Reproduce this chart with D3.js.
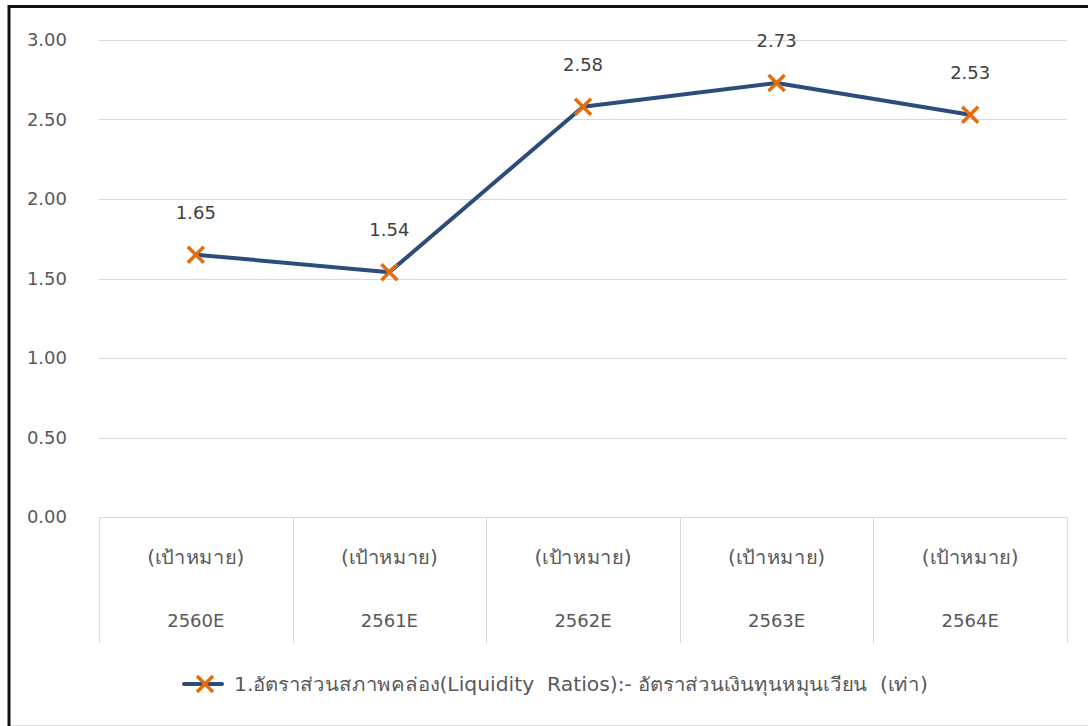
<!DOCTYPE html>
<html>
<head>
<meta charset="utf-8">
<script src="https://cdn.jsdelivr.net/npm/d3@7"></script>
<style>
  html, body { margin: 0; padding: 0; background: #fff; }
  svg { display: block; }
  text { font-family: "DejaVu Sans", "Noto Sans", sans-serif; }
</style>
</head>
<body>
<svg id="chart" width="1088" height="726"></svg>
<script>
// Working-capital ratio targets by year
const years = ["2560E", "2561E", "2562E", "2563E", "2564E"];
const subLabels = ["(เป้าหมาย)", "(เป้าหมาย)", "(เป้าหมาย)", "(เป้าหมาย)", "(เป้าหมาย)"];
const ratios = [1.65, 1.54, 2.58, 2.73, 2.53];
const yTicks = [0, 0.5, 1, 1.5, 2, 2.5, 3];
const seriesName = "1.อัตราส่วนสภาพคล่อง(Liquidity  Ratios):- อัตราส่วนเงินทุนหมุนเวียน  (เท่า)";

const svg = d3.select("#chart");
const W = 1088, H = 726;

// Frame
svg.append("rect").attr("x", 0).attr("y", 0).attr("width", W).attr("height", H).attr("fill", "#fff");
svg.append("rect").attr("x", 9.5).attr("y", 7.5).attr("width", W + 5).attr("height", H - 8)
  .attr("fill", "none").attr("stroke", "#d9d9d9").attr("stroke-width", 1);
svg.append("line").attr("x1", 8).attr("x2", W).attr("y1", 6.5).attr("y2", 6.5)
  .attr("stroke", "#111").attr("stroke-width", 3);
svg.append("line").attr("x1", 9).attr("x2", 9).attr("y1", 5).attr("y2", H)
  .attr("stroke", "#111").attr("stroke-width", 3);

const plotLeft = 99, plotRight = 1067, plotTop = 40, plotBottom = 517;

const x = d3.scaleBand().domain(years).range([plotLeft, plotRight]).padding(0);
const y = d3.scaleLinear().domain([0, 3]).range([plotBottom, plotTop]);

// Horizontal gridlines
svg.append("g").selectAll("line").data(yTicks).join("line")
  .attr("x1", plotLeft).attr("x2", plotRight)
  .attr("y1", d => Math.round(y(d)) + 0.5).attr("y2", d => Math.round(y(d)) + 0.5)
  .attr("stroke", "#d9d9d9").attr("stroke-width", 1);

// Y axis labels
const yAxis = d3.axisLeft(y).tickValues(yTicks).tickFormat(d3.format(".2f")).tickSize(0).tickPadding(0);
const gy = svg.append("g").attr("transform", `translate(67,0)`).call(yAxis);
gy.select(".domain").remove();
gy.selectAll("text").attr("fill", "#595959").attr("font-size", 18)
  .attr("font-family", "\"DejaVu Sans\", \"Noto Sans\", sans-serif");

// Category table lines
const catBottom = 643;
const bounds = years.map(d => x(d)).concat([x(years[years.length - 1]) + x.bandwidth()]);
svg.append("g").selectAll("line").data(bounds).join("line")
  .attr("x1", d => Math.round(d) + 0.5).attr("x2", d => Math.round(d) + 0.5)
  .attr("y1", plotBottom).attr("y2", catBottom)
  .attr("stroke", "#d9d9d9").attr("stroke-width", 1);

// Category labels
const cats = svg.append("g");
cats.selectAll("text.sub").data(years).join("text").attr("class", "sub")
  .attr("x", d => x(d) + x.bandwidth() / 2).attr("y", 564)
  .attr("text-anchor", "middle").attr("font-size", 19).attr("fill", "#595959")
  .attr("textLength", 97).attr("lengthAdjust", "spacingAndGlyphs")
  .text((d, i) => subLabels[i]);
cats.selectAll("text.yr").data(years).join("text").attr("class", "yr")
  .attr("x", d => x(d) + x.bandwidth() / 2).attr("y", 627)
  .attr("text-anchor", "middle").attr("font-size", 18).attr("fill", "#595959")
  .text(d => d);

// Series line
const lineColor = "#2c4d79";
const markColor = "#e46c0a";
const line = d3.line().x((d, i) => x(years[i]) + x.bandwidth() / 2).y(d => y(d));
svg.append("path").datum(ratios).attr("d", line)
  .attr("fill", "none").attr("stroke", lineColor).attr("stroke-width", 4)
  .attr("stroke-linejoin", "round").attr("stroke-linecap", "round");

// X markers
const xMark = (cx, cy, r) => `M${cx - r},${cy - r}L${cx + r},${cy + r}M${cx - r},${cy + r}L${cx + r},${cy - r}`;
svg.append("g").selectAll("path").data(ratios).join("path")
  .attr("d", (d, i) => xMark(x(years[i]) + x.bandwidth() / 2, y(d), 8))
  .attr("stroke", markColor).attr("stroke-width", 3.5).attr("fill", "none");

// Data labels
svg.append("g").selectAll("text").data(ratios).join("text")
  .attr("x", (d, i) => x(years[i]) + x.bandwidth() / 2)
  .attr("y", d => y(d) - 36)
  .attr("text-anchor", "middle").attr("font-size", 18).attr("fill", "#404040")
  .text(d => d3.format(".2f")(d));

// Legend
const lg = svg.append("g");
lg.append("line").attr("x1", 184).attr("x2", 222).attr("y1", 684).attr("y2", 684)
  .attr("stroke", lineColor).attr("stroke-width", 4).attr("stroke-linecap", "round");
lg.append("path").attr("d", xMark(205, 684, 8))
  .attr("stroke", markColor).attr("stroke-width", 3.5).attr("fill", "none");
lg.append("text").attr("x", 234).attr("y", 691).attr("font-size", 19).attr("fill", "#595959")
  .attr("xml:space", "preserve").style("white-space", "pre")
  .attr("textLength", 694).attr("lengthAdjust", "spacingAndGlyphs")
  .text(seriesName);
</script>
</body>
</html>
